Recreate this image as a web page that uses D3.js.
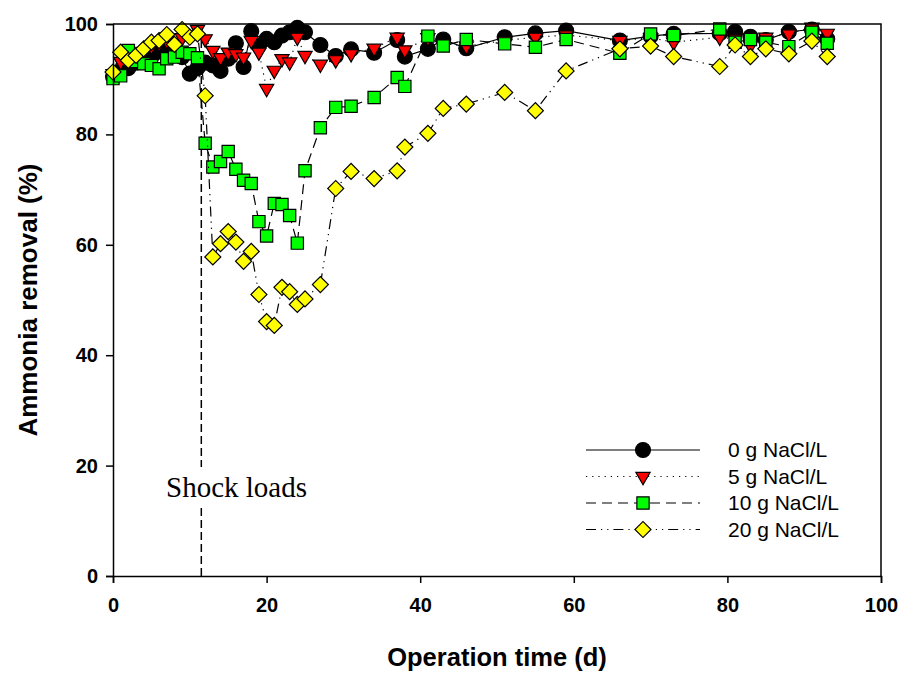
<!DOCTYPE html>
<html>
<head>
<meta charset="utf-8">
<script src="https://d3js.org/d3.v7.min.js"></script>
<style>
  body { margin: 0; background: #fff; }
  svg { display: block; }
</style>
</head>
<body>
<svg id="chart" width="902" height="673"></svg>
<script>
'use strict';

// operation days (d)
const days = [0, 1, 2, 3, 4, 5, 6, 7, 8, 9, 10, 11, 12, 13, 14, 15, 16, 17, 18, 19, 20, 21, 22, 23, 24, 25,
  27, 29, 31, 34, 37, 38, 41, 43, 46, 51, 55, 59, 66, 70, 73, 79, 81, 83, 85, 88, 91, 93];

// ammonia removal (%) per salt load
const nacl0 = [90.5, 91.5, 92, 93, 93.5, 94, 95, 95.5, 95, 94, 91, 92, 93, 92.5, 91.5, 93.7, 96.5, 92.2, 98.7, 96.1, 97.3, 96.7, 97.9, 98.5, 99.3, 98.5,
  96.2, 94.2, 95.4, 94.8, 97.1, 94.1, 95.5, 97.2, 95.6, 97.6, 98.3, 98.8, 97.0, 97.8, 98.2, 98.3, 98.6, 97.7, 97.1, 98.6, 99.0, 97.3];
const nacl5 = [91, 93.2, 93.5, 94.5, 95, 96, 96.5, 97, 96.5, 97.5, 98, 99, 97.3, 95.2, 93.9, 94.9, 94.6, 94.0, 97.0, 94.9, 88.3, 91.6, 93.7, 93.1, 97.6, 94.3,
  92.7, 93.5, 94.6, 95.6, 97.6, 95.3, 97.5, 96.5, 96, 97, 97.6, 98, 97.0, 97.5, 96.7, 97.6, 97.3, 96.1, 97.6, 98.2, 99.4, 98.3];
const nacl10 = [90.1, 90.6, 95.2, 93.2, 92.8, 92.5, 91.9, 93.7, 94.0, 94.9, 94.6, 93.9, 78.4, 74.1, 75.1, 76.9, 73.7, 71.7, 71.1, 64.2, 61.6, 67.5, 67.3, 65.3, 60.3, 73.4,
  81.2, 84.9, 85.1, 86.7, 90.3, 88.7, 97.8, 96.0, 97.2, 96.4, 95.8, 97.2, 94.7, 98.2, 97.9, 99.1, 96.7, 97.2, 96.7, 95.9, 98.5, 96.5];
const nacl20 = [91.3, 94.9, 93.4, 94.3, 95.5, 96.7, 97.0, 98.1, 96.3, 99.0, 97.6, 98.2, 87.0, 57.8, 60.2, 62.4, 60.5, 57.0, 58.8, 51.0, 46.1, 45.4, 52.3, 51.5, 49.2, 50.2,
  52.8, 70.2, 73.3, 72.0, 73.4, 77.7, 80.2, 84.7, 85.5, 87.6, 84.3, 91.5, 95.5, 96.0, 94.1, 92.3, 96.2, 94.1, 95.5, 94.6, 96.9, 94.1];

const seriesLabels = ['0 g NaCl/L', '5 g NaCl/L', '10 g NaCl/L', '20 g NaCl/L'];
const xTicks = [0, 20, 40, 60, 80, 100];
const yTicks = [0, 20, 40, 60, 80, 100];
const shockDay = 11.5;

const svg = d3.select('#chart');
const margin = { left: 113, right: 21, top: 24, bottom: 97 };
const width = 902 - margin.left - margin.right;
const height = 673 - margin.top - margin.bottom;

const x = d3.scaleLinear().domain([0, 100]).range([margin.left, margin.left + width]);
const y = d3.scaleLinear().domain([0, 100]).range([margin.top + height, margin.top]);

const font = 'Arial, "Liberation Sans", sans-serif';

const styles = [
  { values: nacl0, dash: null, symbol: d3.symbolCircle, size: 175, fill: '#000000', rot: 0 },
  { values: nacl5, dash: '1.2,5', symbol: d3.symbolTriangle, size: 88, fill: '#ff0000', rot: 180 },
  { values: nacl10, dash: '10,6', symbol: d3.symbolSquare, size: 150, fill: '#00ff00', rot: 0 },
  { values: nacl20, dash: '10,5,1.2,5,1.2,5', symbol: d3.symbolSquare, size: 128, fill: '#ffff00', rot: 45 }
];

// shock load marker
const g0 = svg.append('g');
g0.append('line')
  .attr('x1', x(shockDay)).attr('x2', x(shockDay))
  .attr('y1', y(0)).attr('y2', y(97))
  .attr('stroke', '#000').attr('stroke-width', 1.5)
  .attr('stroke-dasharray', '8,4');

const shockText = g0.append('text')
  .attr('x', 166).attr('y', 497)
  .attr('font-family', '"Times New Roman", "Liberation Serif", serif')
  .attr('font-size', 29)
  .text('Shock loads');
const bb = shockText.node().getBBox();
g0.insert('rect', 'text')
  .attr('x', bb.x - 2).attr('y', bb.y - 4)
  .attr('width', bb.width + 4).attr('height', bb.height + 8)
  .attr('fill', '#fff');

// series
const line = d3.line().x((d, i) => x(days[i])).y(d => y(d));
styles.forEach(function (s) {
  const g = svg.append('g');
  g.append('path')
    .attr('d', line(s.values))
    .attr('fill', 'none')
    .attr('stroke', '#000')
    .attr('stroke-width', 1.2)
    .attr('stroke-dasharray', s.dash);
  g.selectAll('path.sym').data(s.values).enter().append('path')
    .attr('class', 'sym')
    .attr('d', d3.symbol().type(s.symbol).size(s.size))
    .attr('transform', (d, i) => `translate(${x(days[i])},${y(d)}) rotate(${s.rot})`)
    .attr('fill', s.fill)
    .attr('stroke', '#000')
    .attr('stroke-width', 1.2);
});

// axes
const xAxis = svg.append('g')
  .attr('transform', `translate(0,${margin.top + height})`)
  .call(d3.axisBottom(x).tickValues(xTicks).tickSize(7).tickPadding(15));
const yAxis = svg.append('g')
  .attr('transform', `translate(${margin.left},0)`)
  .call(d3.axisLeft(y).tickValues(yTicks).tickSize(7).tickPadding(8));
[xAxis, yAxis].forEach(function (a) {
  a.select('.domain').attr('stroke-width', 1.5);
  a.selectAll('.tick line').attr('stroke-width', 1.5);
  a.selectAll('text').attr('font-family', font).attr('font-size', 20).attr('font-weight', 'bold').attr('fill', '#000');
});
svg.append('path')
  .attr('d', `M${x(0)},${y(100)}H${x(100)}V${y(0)}`)
  .attr('fill', 'none').attr('stroke', '#000').attr('stroke-width', 1.5);

svg.append('text')
  .attr('x', (x(0) + x(100)) / 2).attr('y', 666)
  .attr('text-anchor', 'middle')
  .attr('font-family', font).attr('font-size', 25.5).attr('font-weight', 'bold')
  .text('Operation time (d)');
svg.append('text')
  .attr('transform', `translate(37,${(y(0) + y(100)) / 2}) rotate(-90)`)
  .attr('text-anchor', 'middle')
  .attr('font-family', font).attr('font-size', 26).attr('font-weight', 'bold')
  .text('Ammonia removal (%)');

// legend
const legend = svg.append('g');
styles.forEach(function (s, i) {
  const ly = 450 + i * 26.5;
  legend.append('line')
    .attr('x1', 586).attr('x2', 700).attr('y1', ly).attr('y2', ly)
    .attr('stroke', '#000').attr('stroke-width', 1.2)
    .attr('stroke-dasharray', s.dash);
  legend.append('path')
    .attr('d', d3.symbol().type(s.symbol).size(s.size))
    .attr('transform', `translate(643,${ly}) rotate(${s.rot})`)
    .attr('fill', s.fill).attr('stroke', '#000').attr('stroke-width', 1.2);
  legend.append('text')
    .attr('x', 728).attr('y', ly + 7)
    .attr('font-family', font).attr('font-size', 21)
    .text(seriesLabels[i]);
});
</script>
</body>
</html>
